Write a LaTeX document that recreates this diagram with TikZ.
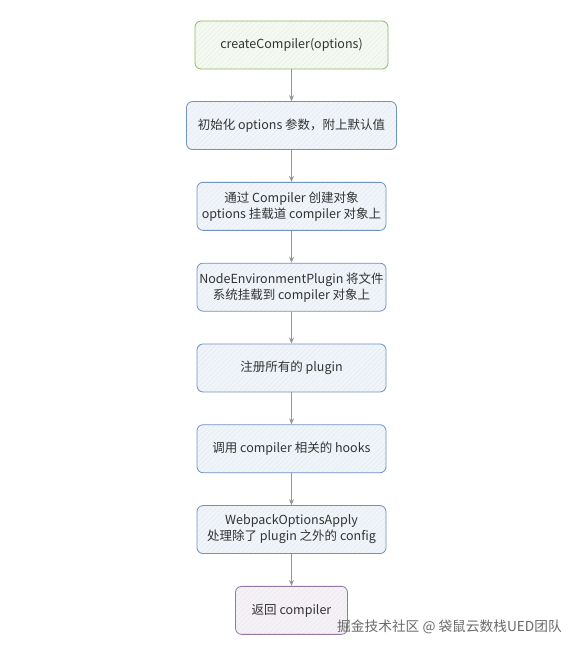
\documentclass[tikz,border=0pt]{standalone}
\usepackage{fontspec}
\setmainfont{Noto Sans CJK SC}
\usepackage{tikz}
\usetikzlibrary{positioning,arrows.meta,patterns.meta}
\definecolor{startgreen}{RGB}{137,184,106}
\definecolor{stepblue}{RGB}{112,146,192}
\definecolor{endpurple}{RGB}{150,118,168}
\definecolor{greenbg}{RGB}{245,250,241}
\definecolor{bluebg}{RGB}{240,245,251}
\definecolor{purplebg}{RGB}{245,241,247}
\definecolor{arrowgray}{RGB}{150,150,150}
\definecolor{textgray}{RGB}{51,51,51}
\definecolor{markgray}{RGB}{105,105,105}

\tikzset{
    flowbox/.style={
        rounded corners=6pt,
        line width=0.8pt,
        minimum height=48pt,
        inner sep=2pt,
        align=center,
        text=textgray,
        font=\fontsize{12.5}{16}\selectfont,
        pattern={Lines[angle=45,distance=3.5pt,line width=0.3pt]},
        pattern color=black!10
    },
    startbox/.style={flowbox, draw=startgreen, preaction={fill=greenbg}, minimum width=193pt},
    stepbox/.style={flowbox, draw=stepblue, preaction={fill=bluebg}, minimum width=189pt},
    endbox/.style={flowbox, draw=endpurple, preaction={fill=purplebg}, minimum width=112pt},
    flowarrow/.style={draw=arrowgray, line width=0.8pt, -{Stealth[length=6pt,width=5pt]}}
}

\begin{document}
\begin{tikzpicture}[x=1pt, y=1pt, node distance=32pt]
    \useasboundingbox (0,0) rectangle (578,-650);

    \node[startbox] (create) at (291.5,-45) {createCompiler(options)};
    \node[stepbox, minimum width=210pt, below=of create] (init) {初始化 options 参数，附上默认值};
    \node[stepbox, below=of init] (compiler) {通过 Compiler 创建对象\\options 挂载道 compiler 对象上};
    \node[stepbox, below=of compiler] (nodeenv) {NodeEnvironmentPlugin 将文件\\系统挂载到 compiler 对象上};
    \node[stepbox, below=of nodeenv] (plugins) {注册所有的 plugin};
    \node[stepbox, below=of plugins] (hooks) {调用 compiler 相关的 hooks};
    \node[stepbox, below=of hooks] (apply) {WebpackOptionsApply\\处理除了 plugin 之外的 config};
    \node[endbox, below=of apply] (result) {返回 compiler};

    % connectors
    \draw[flowarrow] (create) -- (init);
    \draw[flowarrow] (init) -- (compiler);
    \draw[flowarrow] (compiler) -- (nodeenv);
    \draw[flowarrow] (nodeenv) -- (plugins);
    \draw[flowarrow] (plugins) -- (hooks);
    \draw[flowarrow] (hooks) -- (apply);
    \draw[flowarrow] (apply) -- (result);

    % watermark
    \node[anchor=east, inner sep=0pt, text=markgray, font=\fontsize{13.7}{14}\selectfont] (mark) at (562,-627) {掘金技术社区 @ 袋鼠云数栈UED团队};
\end{tikzpicture}
\end{document}
